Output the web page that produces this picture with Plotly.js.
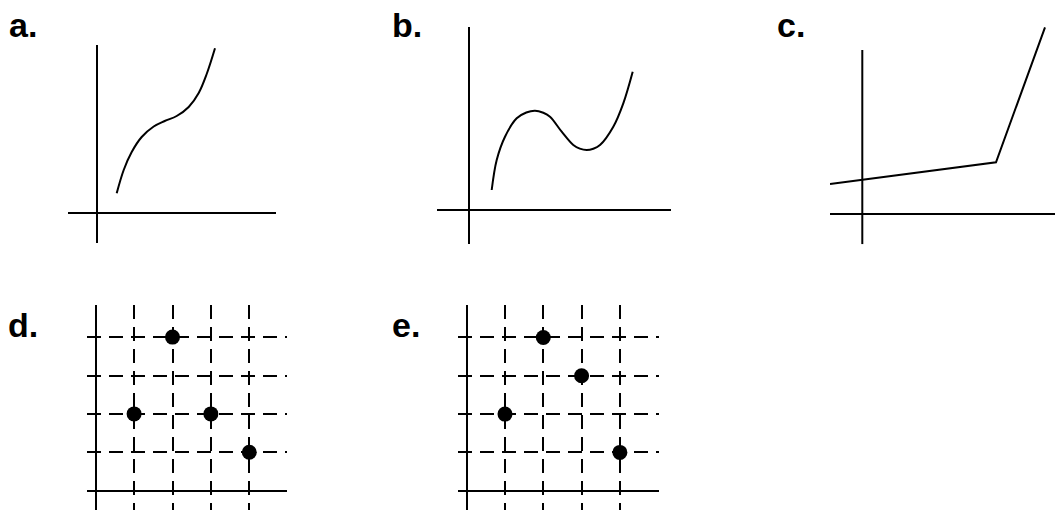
<!DOCTYPE html>
<html>
<head>
<meta charset="utf-8">
<script src="https://cdn.plot.ly/plotly-3.0.1.min.js"></script>
<style>
  html, body { margin: 0; padding: 0; background: #fff; }
  #chart { width: 1055px; height: 510px; }
</style>
</head>
<body>
<div id="chart"></div>
<script>
'use strict'
/* Five small sketch panels: three curves (a-c) and two dot grids (d-e) */

/* Panel a: smooth increasing curve with a flat spot */
var aX = [20, 27, 35, 45, 57, 68, 80, 92, 102, 110, 118.3];
var aY = [19.7, 43, 61, 76, 86.5, 92, 97, 106, 120, 139, 164.7];

/* Panel b: curve with a local max and a local min */
var bX = [22.4, 27.4, 35.7, 47.4, 57, 65.7, 74, 80.7, 92.4, 104, 110.5, 117.4, 124, 130.7, 144, 154, 163.4];
var bY = [20, 50, 73.3, 91.7, 97.5, 99.3, 97.2, 93.3, 78.3, 65, 61.4, 60, 61.3, 65, 83.3, 106.7, 138.3];

/* Panel c: two straight pieces with a kink */
var cX = [-32.3, 133.7, 182.7];
var cY = [30, 51.7, 186.7];

/* Panels d and e: dots on the grid */
var dX = [1, 2, 3, 4];
var dY = [2, 4, 2, 1];
var eX = [1, 2, 3, 4];
var eY = [2, 4, 3, 1];
var gridTicks = [1, 2, 3, 4];

var labels = ['a.', 'b.', 'c.', 'd.', 'e.'];

var W = 1055, H = 510;
function fx(p) { return p / W; }
function fy(p) { return 1 - p / H; }

var black = '#000';

function curveTrace(x, y, xa, ya, shape) {
    return {
        type: 'scatter', mode: 'lines',
        x: x, y: y, xaxis: xa, yaxis: ya,
        line: {color: black, width: 2, shape: shape, smoothing: 1},
        hoverinfo: 'skip', showlegend: false
    };
}

function dotTrace(x, y, xa, ya) {
    return {
        type: 'scatter', mode: 'markers',
        x: x, y: y, xaxis: xa, yaxis: ya,
        marker: {color: black, size: 15},
        cliponaxis: false,
        hoverinfo: 'skip', showlegend: false
    };
}

/* plain axes: only the zero lines */
function plainAxis(domain, range, anchor) {
    return {
        domain: domain, range: range, anchor: anchor,
        showgrid: false, showticklabels: false, ticks: '',
        showline: false, zeroline: true,
        zerolinecolor: black, zerolinewidth: 2, fixedrange: true
    };
}

/* grid axes: dashed lines at each unit */
function gridAxis(domain, range, anchor) {
    var ax = plainAxis(domain, range, anchor);
    ax.showgrid = true;
    ax.tickmode = 'array';
    ax.tickvals = gridTicks;
    ax.gridcolor = black;
    ax.gridwidth = 2;
    ax.griddash = '14px,8px';
    return ax;
}

var data = [
    curveTrace(aX, aY, 'x', 'y', 'spline'),
    curveTrace(bX, bY, 'x2', 'y2', 'spline'),
    curveTrace(cX, cY, 'x3', 'y3', 'linear'),
    dotTrace(dX, dY, 'x4', 'y4'),
    dotTrace(eX, eY, 'x5', 'y5')
];

var labelPos = [[8, 45], [391, 45], [776, 45], [7, 345], [391, 345]];
var annotations = labels.map(function (t, i) {
    return {
        text: '<b>' + t + '</b>',
        xref: 'paper', yref: 'paper',
        x: fx(labelPos[i][0]), y: fy(labelPos[i][1]),
        xanchor: 'left', yanchor: 'bottom',
        showarrow: false, borderpad: 0,
        font: {family: 'Liberation Sans Narrow, Arial Narrow, Liberation Sans, Arial', size: 34, color: black}
    };
});

var c3 = plainAxis([fx(830), fx(1055)], [-32.3, 192.7], 'y3');
c3.zeroline = false;

var layout = {
    width: W, height: H,
    margin: {l: 0, r: 0, t: 0, b: 0},
    paper_bgcolor: '#fff', plot_bgcolor: 'rgba(0,0,0,0)',
    showlegend: false,
    xaxis: plainAxis([fx(68), fx(276)], [-28.7, 179.3], 'y'),
    yaxis: plainAxis([fy(243), fy(45)], [-30, 168], 'x'),
    xaxis2: plainAxis([fx(437.3), fx(670.7)], [-32, 201.4], 'y2'),
    yaxis2: plainAxis([fy(244.3), fy(26.7)], [-34.3, 183.3], 'x2'),
    xaxis3: c3,
    yaxis3: plainAxis([fy(244.3), fy(20)], [-30.3, 194], 'x3'),
    xaxis4: gridAxis([fx(87.3), fx(287.3)], [-0.219, 4.99], 'y4'),
    yaxis4: gridAxis([0, fy(305)], [-0.503, 4.836], 'x4'),
    xaxis5: gridAxis([fx(458.3), fx(659.3)], [-0.219, 5.029], 'y5'),
    yaxis5: gridAxis([0, fy(305)], [-0.504, 4.848], 'x5'),
    /* vertical axis of panel c stops below the steep line's end */
    shapes: [{
        type: 'line', xref: 'x3', yref: 'y3',
        x0: 0, x1: 0, y0: -30.3, y1: 164,
        line: {color: black, width: 2}
    }],
    annotations: annotations
};

Plotly.newPlot('chart', data, layout, {displayModeBar: false, staticPlot: true});
</script>
</body>
</html>
